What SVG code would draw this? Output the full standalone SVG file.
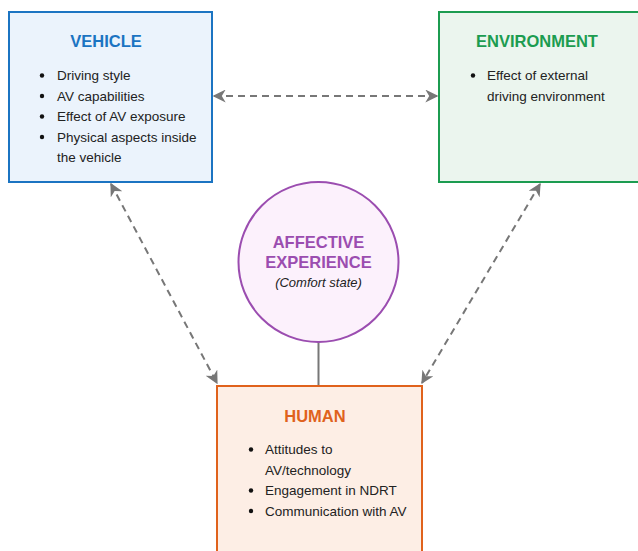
<svg xmlns="http://www.w3.org/2000/svg" width="638" height="551" viewBox="0 0 638 551">
  <style>
    text { font-family: "Liberation Sans", Arial, sans-serif; fill: #222; }
    .title { font-size: 16.5px; font-weight: bold; text-anchor: middle; }
    .item { font-size: 13.5px; }
    .conn { fill: none; stroke: #777; stroke-width: 2; stroke-dasharray: 7 5; }
  </style>
  <defs>
    <marker id="arrow" viewBox="0 0 10 10" refX="9" refY="5" markerWidth="6.5" markerHeight="6.5" orient="auto-start-reverse" markerUnits="strokeWidth">
      <path d="M0,0 L10,5 L0,10 L3,5 z" fill="#777"/>
    </marker>
  </defs>
  <rect width="638" height="551" fill="#ffffff"/>

  <g id="connectors">
    <line class="conn" x1="214" y1="96" x2="437" y2="96" marker-start="url(#arrow)" marker-end="url(#arrow)"/>
    <line class="conn" x1="111" y1="184" x2="217" y2="383" marker-start="url(#arrow)" marker-end="url(#arrow)"/>
    <line class="conn" x1="540" y1="184" x2="422" y2="383" marker-start="url(#arrow)" marker-end="url(#arrow)"/>
    <line x1="318.5" y1="342" x2="318.5" y2="386" stroke="#777" stroke-width="2"/>
  </g>

  <g id="vehicle">
    <rect x="9" y="12" width="203" height="170" fill="#ebf3fc" stroke="#1b74c2" stroke-width="2"/>
    <text class="title" x="106" y="47" style="fill:#1b74c2">VEHICLE</text>
    <g class="item">
      <circle cx="42" cy="75.5" r="2.2" fill="#111"/>
      <text x="57" y="80">Driving style</text>
      <circle cx="42" cy="96" r="2.2" fill="#111"/>
      <text x="57" y="100.5">AV capabilities</text>
      <circle cx="42" cy="116.5" r="2.2" fill="#111"/>
      <text x="57" y="121">Effect of AV exposure</text>
      <circle cx="42" cy="137" r="2.2" fill="#111"/>
      <text x="57" y="141.5">Physical aspects inside</text>
      <text x="57" y="162">the vehicle</text>
    </g>
  </g>

  <g id="environment">
    <rect x="439" y="12" width="205" height="170" fill="#ebf5ee" stroke="#1c9c50" stroke-width="2"/>
    <text class="title" x="537" y="47" style="fill:#1c9c50">ENVIRONMENT</text>
    <g class="item">
      <circle cx="473" cy="75.5" r="2.2" fill="#111"/>
      <text x="487" y="80">Effect of external</text>
      <text x="487" y="100.5">driving environment</text>
    </g>
  </g>

  <g id="affective-experience">
    <circle cx="318.5" cy="262" r="80" fill="#fcf1fc" stroke="#9b4db0" stroke-width="2"/>
    <text class="title" x="318.5" y="248" style="fill:#9b4db0">AFFECTIVE</text>
    <text class="title" x="318.5" y="268" style="fill:#9b4db0">EXPERIENCE</text>
    <text x="318.5" y="287" text-anchor="middle" font-size="13" font-style="italic">(Comfort state)</text>
  </g>

  <g id="human">
    <rect x="217" y="386" width="205" height="180" fill="#fdeee5" stroke="#e0621c" stroke-width="2"/>
    <text class="title" x="315" y="422" style="fill:#e0621c">HUMAN</text>
    <g class="item">
      <circle cx="251" cy="449.5" r="2.2" fill="#111"/>
      <text x="265" y="454">Attitudes to</text>
      <text x="265" y="474.5">AV/technology</text>
      <circle cx="251" cy="490.5" r="2.2" fill="#111"/>
      <text x="265" y="495">Engagement in NDRT</text>
      <circle cx="251" cy="511" r="2.2" fill="#111"/>
      <text x="265" y="515.5">Communication with AV</text>
    </g>
  </g>
</svg>
